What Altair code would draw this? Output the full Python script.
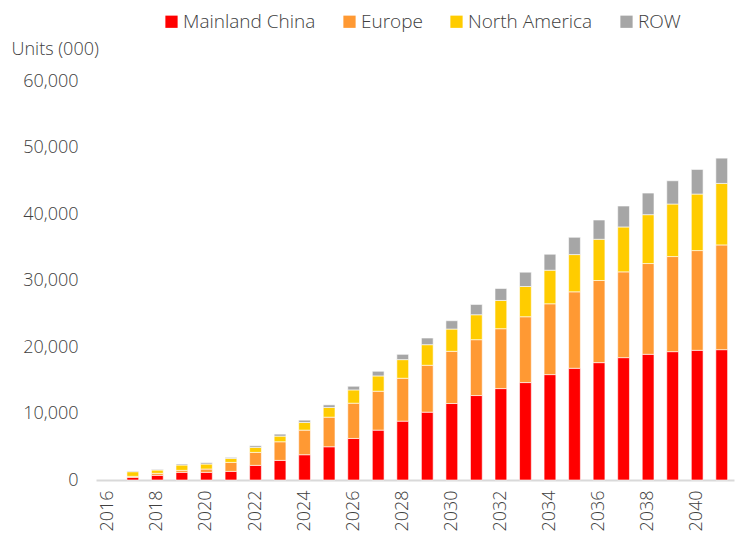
import altair as alt
import pandas as pd

years = [str(y) for y in range(2016, 2042)]
bar_years = [str(y) for y in range(2017, 2042)]
series = ["Mainland China", "Europe", "North America", "ROW"]
colors = ["#FF0000", "#FF9933", "#FFCC00", "#A6A6A6"]

mainland_china = [400, 700, 1150, 1150, 1300, 2200, 2950, 3800, 5000, 6250, 7500, 8850, 10200,
                  11500, 12700, 13750, 14650, 15850, 16800, 17650, 18400, 18900, 19300, 19500, 19600]
europe = [150, 300, 300, 500, 1350, 1950, 2800, 3700, 4450, 5300, 5850, 6450, 7050,
          7850, 8400, 9000, 9900, 10650, 11500, 12350, 12900, 13650, 14300, 15000, 15750]
north_america = [700, 500, 800, 750, 600, 750, 850, 1150, 1450, 2000, 2300, 2800, 3100,
                 3350, 3750, 4250, 4550, 5050, 5600, 6200, 6750, 7350, 7900, 8500, 9250]
row = [100, 100, 150, 200, 150, 250, 300, 350, 400, 550, 700, 800, 1000,
       1250, 1550, 1800, 2150, 2400, 2600, 2900, 3150, 3250, 3500, 3700, 3800]

values = [mainland_china, europe, north_america, row]
records = []
for si, (name, vals) in enumerate(zip(series, values)):
    for y, v in zip(bar_years, vals):
        records.append({"year": y, "series": name, "value": v, "ord": si})
df = pd.DataFrame(records)

FONT = "Open Sans"
TEXT = "#404040"
W = 300

chart = alt.Chart(df).mark_bar(stroke="white", strokeWidth=0.6).encode(
    x=alt.X("year:N", scale=alt.Scale(domain=years, paddingInner=0.52, paddingOuter=0.26),
            axis=alt.Axis(title=None, values=years[::2], labelAngle=-90, labelPadding=10,
                          ticks=False, domainColor="#D9D9D9", domainWidth=2,
                          labelFontSize=18, labelColor=TEXT, labelFont=FONT,
                          labelFontWeight=W)),
    y=alt.Y("value:Q", stack="zero", scale=alt.Scale(domain=[0, 60000], nice=False),
            axis=alt.Axis(title="Units (000)", titleAngle=0, titleAlign="left",
                          titleBaseline="middle", titleX=-85, titleY=-32,
                          titleFontSize=18, titleFontWeight=W, titleColor=TEXT,
                          titleFont=FONT,
                          values=[0, 10000, 20000, 30000, 40000, 50000, 60000], format=",.0f",
                          grid=False, domain=False, ticks=False, labelPadding=18,
                          labelFontSize=18, labelColor=TEXT, labelFont=FONT,
                          labelFontWeight=W)),
    color=alt.Color("series:N", scale=alt.Scale(domain=series, range=colors),
                    legend=alt.Legend(title=None, orient="none", legendX=66, legendY=-69,
                                      direction="horizontal", symbolType="square",
                                      symbolSize=150, symbolStrokeWidth=0,
                                      labelFontSize=19, labelColor=TEXT, labelFont=FONT,
                                      labelFontWeight=W,
                                      columnPadding=24, labelOffset=2)),
    order=alt.Order("ord:Q", sort="ascending"),
).properties(
    width=638, height=399,
    autosize=alt.AutoSizeParams(type="none"),
    padding={"left": 96, "top": 81, "right": 7, "bottom": 58},
).configure(font=FONT).configure_view(strokeWidth=0, stroke="transparent")

chart.save("out.html", embed_options={"renderer": "svg", "actions": False})
